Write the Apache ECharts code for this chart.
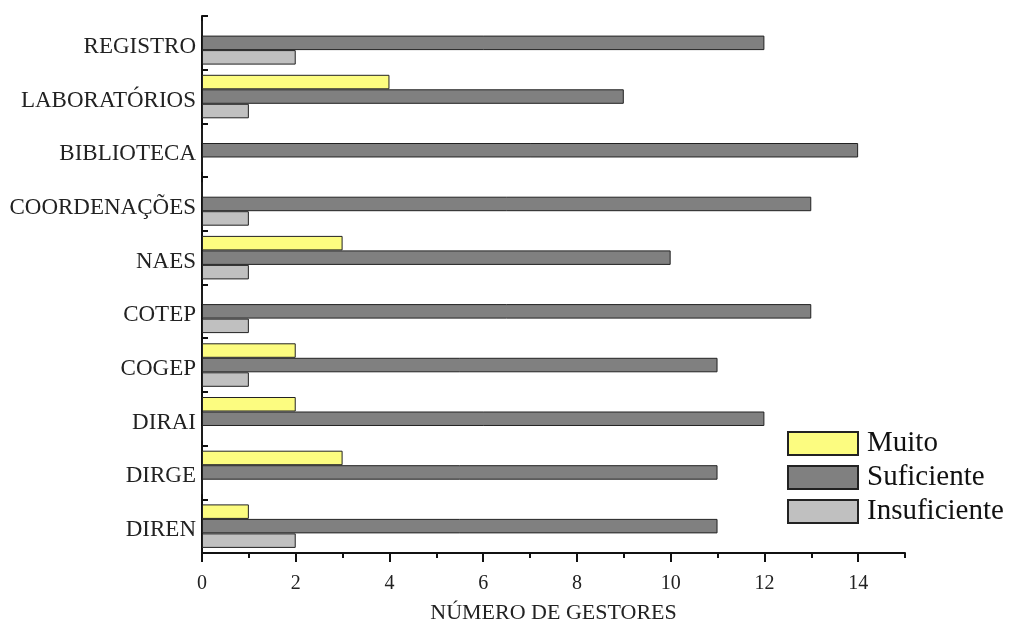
<!DOCTYPE html>
<html>
<head>
<meta charset="utf-8">
<script src="https://cdn.jsdelivr.net/npm/echarts@6/dist/echarts.min.js"></script>
<style>html,body{margin:0;padding:0;background:#fff}#c{width:1011px;height:628px}</style>
</head>
<body>
<div id="c"></div>
<script>
const categories = ['DIREN', 'DIRGE', 'DIRAI', 'COGEP', 'COTEP', 'NAES', 'COORDENAÇÕES', 'BIBLIOTECA', 'LABORATÓRIOS', 'REGISTRO'];
const muito = [1, 3, 2, 2, 0, 3, 0, 0, 4, 0];
const suficiente = [11, 11, 12, 11, 13, 10, 13, 14, 9, 12];
const insuficiente = [2, 0, 0, 1, 1, 1, 1, 0, 1, 2];
const seriesNames = ['Muito', 'Suficiente', 'Insuficiente'];
const xTitle = 'NÚMERO DE GESTORES';

const font = 'Liberation Serif';
const chart = echarts.init(document.getElementById('c'), null, {renderer: 'canvas'});
const mk = (name, data, color) => ({
  name, type: 'bar', data,
  barGap: '0%', barCategoryGap: '19%',
  itemStyle: {color, borderColor: '#222', borderWidth: 1},
  emphasis: {disabled: true}
});
chart.setOption({
  animation: false,
  grid: {left: 202, right: 106, top: 16, bottom: 75, containLabel: false, outerBoundsMode: 'none'},
  legend: {
    orient: 'vertical', left: 787, top: 429, padding: 0,
    itemWidth: 70, itemHeight: 23, itemGap: 5,
    icon: 'rect',
    data: seriesNames,
    textStyle: {fontFamily: font, fontSize: 29, color: '#111', padding: [0, 0, 0, 4]}
  },
  xAxis: [{
    type: 'value', min: 0, max: 15, interval: 2,
    name: xTitle, nameLocation: 'middle', nameGap: 49,
    nameTextStyle: {fontFamily: font, fontSize: 22, color: '#222'},
    axisLine: {show: true, lineStyle: {color: '#111', width: 2}},
    axisTick: {show: true, length: 9, lineStyle: {color: '#111', width: 2}},
    axisLabel: {fontFamily: font, fontSize: 20, color: '#222', margin: 21, showMaxLabel: false},
    splitLine: {show: false}
  }, {
    type: 'value', min: 0, max: 15, interval: 1, position: 'bottom',
    axisLine: {show: false},
    axisTick: {show: true, length: 5, lineStyle: {color: '#111', width: 2}},
    axisLabel: {show: false},
    splitLine: {show: false}
  }],
  yAxis: {
    type: 'category', data: categories,
    axisLine: {show: true, lineStyle: {color: '#111', width: 2}},
    axisTick: {show: true, inside: true, length: 6, lineStyle: {color: '#111', width: 2}},
    axisLabel: {fontFamily: font, fontSize: 23, color: '#222', margin: 6, verticalAlign: 'top', lineHeight: 8}
  },
  series: [
    mk(seriesNames[0], muito, '#FCFC80'),
    mk(seriesNames[1], suficiente, '#808080'),
    mk(seriesNames[2], insuficiente, '#C0C0C0')
  ]
});
</script>
</body>
</html>
